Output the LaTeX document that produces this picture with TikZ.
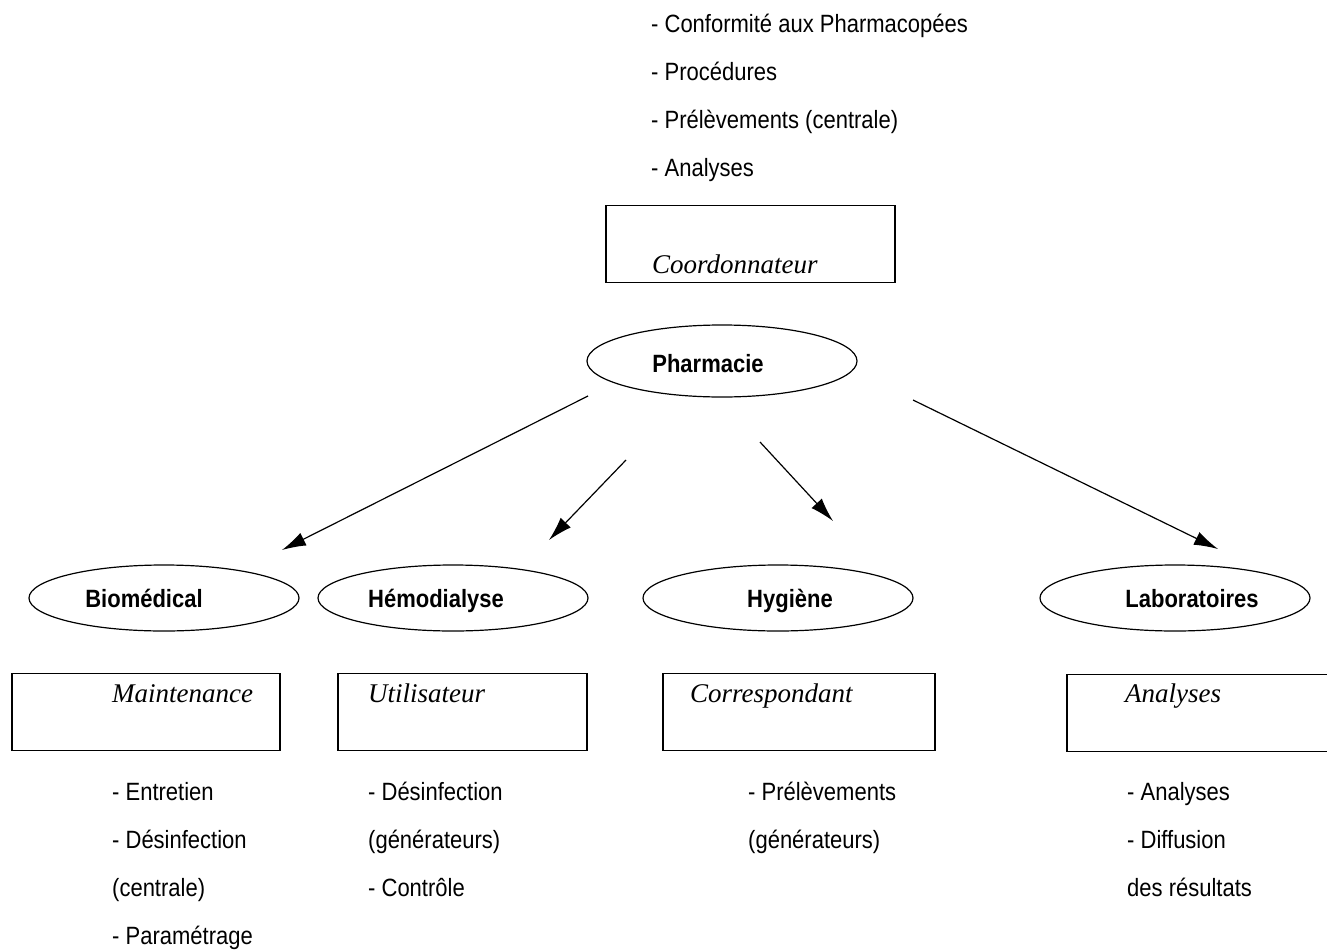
\documentclass[tikz,border=0pt]{standalone}
\usepackage{fontspec}
\setmainfont{Liberation Sans}[FakeStretch=0.88]
\newfontfamily\rolefont{Liberation Serif}
\usetikzlibrary{shapes.geometric,arrows.meta}

\begin{document}
\begin{tikzpicture}[x=1pt, y=-1pt, font=\fontsize{25}{28}\selectfont,
    service/.style={ellipse, draw, line width=1.2pt, minimum width=270pt,
                    minimum height=66pt},
    servicetext/.style={anchor=base, inner sep=0pt,
                        font=\fontsize{25}{28}\selectfont\bfseries},
    role/.style={draw, line width=1.2pt, minimum height=77pt},
    roletext/.style={anchor=base west, inner sep=0pt,
                     font=\fontsize{27}{30}\rolefont\itshape},
    item/.style={anchor=base west, inner sep=0pt},
    flow/.style={line width=1.2pt, -{Latex[length=24pt,width=14pt]}}]
  \useasboundingbox (0,0) rectangle (1327,950);

  % tasks of the pharmacy
  \node[item] (t1) at (651,33)  {- Conformité aux Pharmacopées};
  \node[item] (t2) at (651,80)  {- Procédures};
  \node[item] (t3) at (651,128) {- Prélèvements (centrale)};
  \node[item] (t4) at (651,176) {- Analyses};

  \node[role, minimum width=289pt] (coord) at (750.5,244) {};
  \node[roletext] (coordt) at (652,273) {Coordonnateur};

  \node[service, minimum height=72pt] (pharma) at (722,361) {};
  \node[servicetext] (pharmat) at (708,372) {Pharmacie};

  % services
  \node[service] (bio)   at (164,598)  {};
  \node[service] (hemo)  at (453,598)  {};
  \node[service] (hyg)   at (778,598)  {};
  \node[service] (labo)  at (1175,598) {};
  \node[servicetext] (biot)  at (144,607)  {Biomédical};
  \node[servicetext] (hemot) at (436,607)  {Hémodialyse};
  \node[servicetext] (hygt)  at (790,607)  {Hygiène};
  \node[servicetext] (labot) at (1192,607) {Laboratoires};

  % arrow ends
  \coordinate (a1) at (588,396);  \coordinate (b1) at (282,550);
  \coordinate (a2) at (626,460);  \coordinate (b2) at (549,540);
  \coordinate (a3) at (760,442);  \coordinate (b3) at (833,521);
  \coordinate (a4) at (913,400);  \coordinate (b4) at (1218,549);
  \draw[flow] (a1) -- (b1);
  \draw[flow] (a2) -- (b2);
  \draw[flow] (a3) -- (b3);
  \draw[flow] (a4) -- (b4);

  % roles
  \node[role, minimum width=268pt] (maint) at (146,712)   {};
  \node[role, minimum width=249pt] (util)  at (462.5,712) {};
  \node[role, minimum width=272pt] (corr)  at (799,712)   {};
  \node[role, minimum width=273pt] (anal)  at (1203.5,713) {};
  \node[roletext] (maintt) at (112,702)  {Maintenance};
  \node[roletext] (utilt)  at (368,702)  {Utilisateur};
  \node[roletext] (corrt)  at (690,702)  {Correspondant};
  \node[roletext] (analt)  at (1125,702) {Analyses};

  % duties
  \node[item] (m1) at (112,800) {- Entretien};
  \node[item] (m2) at (112,848) {- Désinfection};
  \node[item] (m3) at (112,896) {(centrale)};
  \node[item] (m4) at (112,944) {- Paramétrage};

  \node[item] (u1) at (368,800) {- Désinfection};
  \node[item] (u2) at (368,848) {(générateurs)};
  \node[item] (u3) at (368,896) {- Contrôle};

  \node[item] (c1) at (748,800) {- Prélèvements};
  \node[item] (c2) at (748,848) {(générateurs)};

  \node[item] (l1) at (1127,800) {- Analyses};
  \node[item] (l2) at (1127,848) {- Diffusion};
  \node[item] (l3) at (1127,896) {des résultats};
\end{tikzpicture}
\end{document}
